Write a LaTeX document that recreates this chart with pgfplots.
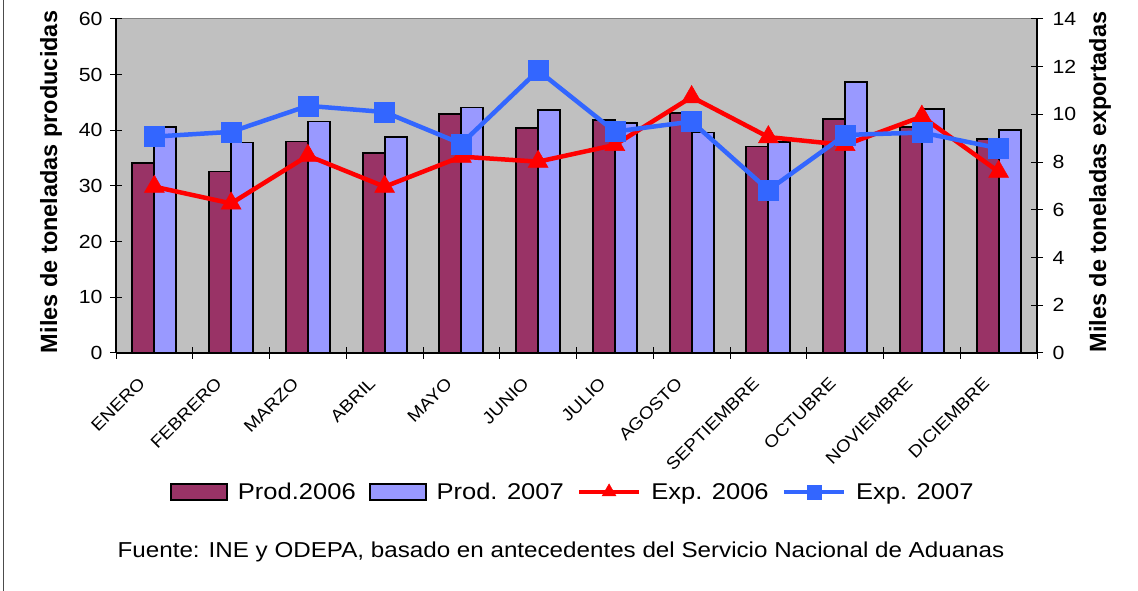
\documentclass[border=0pt]{standalone}
\usepackage{fontspec}
\setmainfont{Liberation Sans}
\newfontfamily\sfont{Liberation Sans}[FakeStretch=1.12]
\usepackage{pgfplots}
\pgfplotsset{compat=1.18}
\definecolor{c06}{HTML}{993366}
\definecolor{c07}{HTML}{9999FF}
\definecolor{e06}{HTML}{FF0000}
\definecolor{e07}{HTML}{3366FF}
\definecolor{bg}{HTML}{C0C0C0}
\pgfplotsset{
  linelegend/.style={legend image code/.code={\draw[##1, mark size=#1, mark repeat=2, mark phase=2] plot coordinates {(0pt,0pt) (30pt,0pt) (60pt,0pt)};}},
  boxlegend/.style={legend image code/.code={\draw[fill=#1,draw=black,line width=1.8pt] (0pt,-8pt) rectangle (56pt,8pt);}},
}
\begin{document}
\begin{tikzpicture}[x=1pt,y=1pt]
\path[use as bounding box] (0,0) rectangle (1138,591);
\fill[white] (0,0) rectangle (1138,591);
\draw[line width=1.5pt, black!70] (3.5,0) -- (3.5,591);

\begin{axis}[
  at={(116pt,238pt)}, anchor=south west,
  scale only axis, width=921pt, height=334pt,
  xmin=-0.5, xmax=11.5, ymin=0, ymax=60,
  axis x line*=bottom, axis y line*=left,
  axis background/.style={fill=bg, draw=gray, line width=1pt},
  ybar=0pt, bar width=22pt,
  xtick={0,...,11},
  xticklabels={ENERO,FEBRERO,MARZO,ABRIL,MAYO,JUNIO,JULIO,AGOSTO,SEPTIEMBRE,OCTUBRE,NOVIEMBRE,DICIEMBRE},
  minor xtick={-0.5,0.5,...,11.5},
  major x tick style={draw=none},
  minor x tick style={black, line width=1pt},
  minor tick length=12pt,
  ytick={0,10,...,60},
  major tick length=12pt,
  tick align=center,
  y tick style={black, line width=1pt},
  axis line style={-, black, line width=1.2pt},
  xticklabel style={xshift=-10pt, yshift=-19pt, rotate=45, anchor=east, font=\sfont\fontsize{17}{19}\selectfont},
  yticklabel style={xshift=-4pt, font=\sfont\fontsize{19}{22}\selectfont},
  /pgf/number format/assume math mode=true,
  clip=false,
]
\addplot[fill=c06, draw=black, line width=1.8pt] coordinates {
(0,34.2) (1,32.6) (2,38.0) (3,35.9) (4,42.9) (5,40.4) (6,41.9) (7,43.1) (8,37.1) (9,42.0) (10,40.6) (11,38.5)};
\addplot[fill=c07, draw=black, line width=1.8pt] coordinates {
(0,40.6) (1,37.8) (2,41.6) (3,38.8) (4,44.1) (5,43.6) (6,41.3) (7,39.6) (8,37.9) (9,48.7) (10,43.9) (11,40.0)};
\end{axis}

\begin{axis}[
  at={(116pt,238pt)}, anchor=south west,
  scale only axis, width=921pt, height=334pt,
  xmin=-0.5, xmax=11.5, ymin=0, ymax=14,
  axis x line=none, axis y line*=right,
  ytick={0,2,...,14},
  major tick length=12pt, tick align=center,
  y tick style={black, line width=1pt},
  axis line style={-, black, line width=1.2pt},
  yticklabel style={xshift=6pt, font=\sfont\fontsize{19}{22}\selectfont},
  /pgf/number format/assume math mode=true,
  clip=false,
  legend columns=4,
  legend style={at={(0.496,-0.416)}, anchor=center, draw=none, fill=none,
    font=\sfont\fontsize{22.8}{26}\selectfont,
    /tikz/every odd column/.append style={column sep=8pt},
    /tikz/every even column/.append style={column sep=11pt}},
]
\addlegendimage{boxlegend=c06}
\addlegendentry{Prod.2006}
\addlegendimage{boxlegend=c07}
\addlegendentry{Prod. 2007}
\addplot[color=e06, line width=4.5pt, mark=triangle*, mark size=11.5pt, mark options={solid, line width=0.5pt, fill=e06},
  linelegend=8pt]
coordinates {
(0,6.97) (1,6.27) (2,8.27) (3,6.97) (4,8.23) (5,8.02) (6,8.72) (7,10.73) (8,9.05) (9,8.72) (10,9.91) (11,7.6)};
\addlegendentry{Exp. 2006}
\addplot[color=e07, line width=4.5pt, mark=square*, mark size=10pt, mark options={solid, line width=0.5pt, fill=e07},
  linelegend=7pt]
coordinates {
(0,9.07) (1,9.27) (2,10.36) (3,10.1) (4,8.77) (5,11.84) (6,9.28) (7,9.70) (8,6.83) (9,9.14) (10,9.24) (11,8.58)};
\addlegendentry{Exp. 2007}
\end{axis}

\node[rotate=90, font=\bfseries\fontsize{23.5}{26}\selectfont] at (51,409) {Miles de toneladas producidas};
\node[rotate=90, font=\bfseries\fontsize{23.5}{26}\selectfont] at (1100,409) {Miles de toneladas exportadas};
\node[anchor=base, font=\sfont\fontsize{21.6}{24}\selectfont] at (561,33) {Fuente: INE y ODEPA, basado en antecedentes del Servicio Nacional de Aduanas};
\end{tikzpicture}
\end{document}
